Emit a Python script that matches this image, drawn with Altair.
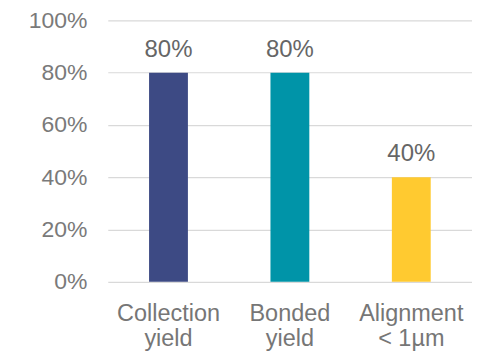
import altair as alt
import pandas as pd

categories = ["Collection|yield", "Bonded|yield", "Alignment|< 1µm"]
values = [0.80, 0.80, 0.40]
colors = ["#3D4A84", "#0094A8", "#FFCA30"]

df = pd.DataFrame({"cat": categories, "val": values, "color": colors})

FONT = "Liberation Sans"

base = alt.Chart(df).encode(
    x=alt.X(
        "cat:N",
        sort=categories,
        title=None,
        scale=alt.Scale(paddingInner=0.68, paddingOuter=0.34),
        axis=alt.Axis(
            labelAngle=0,
            labelExpr="split(datum.label, '|')",
            labelFont=FONT,
            labelFontSize=23.5,
            labelColor="#767676",
            labelLineHeight=25,
            labelPadding=20,
            ticks=False,
            domain=False,
        ),
    ),
    y=alt.Y(
        "val:Q",
        title=None,
        scale=alt.Scale(domain=[0, 1]),
        axis=alt.Axis(
            format=".0%",
            values=[0, 0.2, 0.4, 0.6, 0.8, 1.0],
            labelFont=FONT,
            labelFontSize=23,
            labelColor="#7A7A7A",
            labelPadding=21,
            ticks=False,
            domain=False,
            gridColor="#D9D9D9",
            gridWidth=1.2,
        ),
    ),
)

bars = base.mark_bar().encode(color=alt.Color("color:N", scale=None))

labels = base.mark_text(
    font=FONT, fontSize=24, color="#666666", baseline="alphabetic", dy=-16
).encode(text=alt.Text("val:Q", format=".0%"))

chart = (
    (bars + labels)
    .properties(
        width=365,
        height=262,
        autosize=alt.AutoSizeParams(type="none"),
        padding={"left": 100, "top": 12, "right": 0, "bottom": 90},
    )
    .configure_view(stroke=None)
)

chart.save("out.html", embed_options={"renderer": "svg", "actions": False})
